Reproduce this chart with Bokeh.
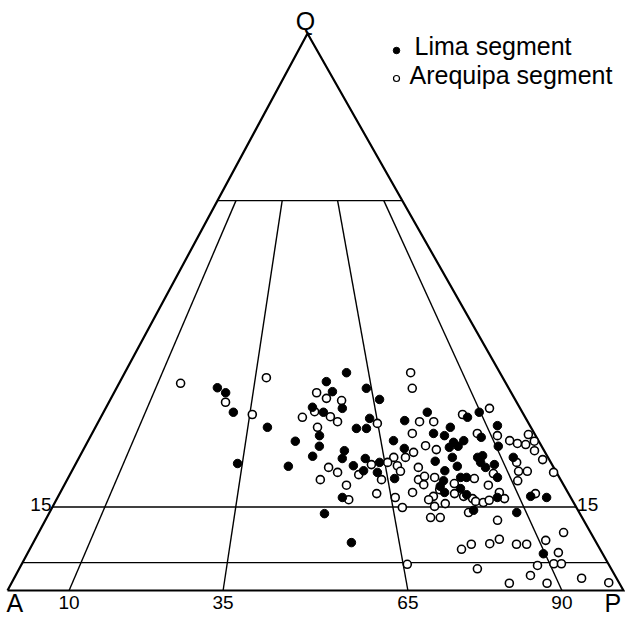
import numpy as np
from bokeh.plotting import figure
from bokeh.models import Range1d
from bokeh.core.properties import value
from bokeh.embed import file_html
from bokeh.resources import INLINE

# ---------------- data (Q %, and P/(A+P) %) ----------------
lima_q = [36.4, 35.5, 32.0, 29.3, 22.8, 26.8, 22.3, 39.1, 37.5, 35.7, 36.3, 34.3, 32.9, 32.0,
          32.7, 30.9, 29.1, 29.1, 27.8, 25.9, 25.1, 24.1, 23.7, 22.4, 23.7, 21.5, 23.0, 21.2,
          20.1, 16.7, 13.8, 8.6, 30.5, 32.0, 28.2, 27.8, 29.3, 26.9, 25.5, 23.2, 21.5, 26.6,
          26.9, 25.9, 25.7, 23.9, 22.3, 20.3, 20.3, 19.7, 18.7, 17.6, 18.3, 17.2, 31.1, 32.0,
          27.5, 23.9, 24.2, 23.0, 22.1, 22.6, 29.6, 25.9, 20.3, 16.7, 14.4, 23.9, 16.9, 16.7,
          14.0, 6.6]
lima_r = [25.7, 28.1, 31.0, 39.5, 34.0, 46.0, 44.7, 59.1, 53.6, 55.0, 63.7, 66.5, 49.9, 52.5,
          57.1, 63.3, 59.9, 62.2, 51.4, 51.3, 56.7, 49.8, 56.1, 58.3, 61.0, 60.3, 63.9, 63.1,
          66.4, 55.5, 51.9, 56.5, 71.4, 77.3, 77.2, 79.5, 81.5, 67.8, 69.8, 75.7, 77.1, 81.0,
          83.4, 81.7, 79.7, 79.6, 80.0, 79.9, 81.1, 76.2, 75.2, 75.7, 79.1, 79.9, 86.4, 89.7,
          87.6, 85.0, 86.2, 85.2, 85.8, 87.9, 92.5, 90.5, 87.4, 85.7, 80.2, 92.6, 92.3, 95.3,
          88.2, 89.7]

areq_q = [37.2, 33.8, 31.6, 38.2, 39.1, 36.3, 35.5, 34.5, 34.1, 32.1, 31.2, 30.3, 31.1, 29.3,
          30.0, 30.3, 30.3, 28.2, 26.0, 25.3, 24.8, 23.9, 23.9, 23.0, 22.6, 22.4, 21.4, 19.9,
          22.1, 19.9, 20.5, 19.0, 20.3, 18.1, 16.9, 16.3, 15.1, 15.6, 13.1, 13.1, 19.2, 17.4,
          16.9, 20.1, 16.5, 16.0, 15.8, 16.2, 17.6, 16.5, 14.0, 12.6, 31.6, 32.7, 28.2, 27.8,
          26.9, 26.4, 26.2, 28.0, 26.8, 25.1, 23.5, 21.2, 23.0, 21.4, 21.4, 19.7, 17.4, 18.9,
          21.0, 22.1, 21.2, 19.9, 18.9, 20.8, 17.4, 16.7, 16.3, 14.9, 17.6, 7.4, 8.3, 8.4,
          9.2, 8.3, 8.3, 9.0, 10.4, 6.8, 4.8, 4.8, 4.5, 2.7, 1.3, 1.3, 2.2, 1.4, 3.9, 4.7]
areq_r = [15.9, 28.6, 35.6, 37.9, 76.2, 75.4, 51.0, 53.4, 57.1, 50.4, 54.1, 55.7, 47.5, 51.0,
          64.9, 74.8, 78.1, 72.4, 74.6, 76.7, 71.6, 69.6, 67.1, 65.6, 62.1, 67.5, 67.9, 63.7,
          71.8, 71.2, 72.6, 72.0, 74.6, 74.9, 73.3, 72.2, 73.0, 75.2, 71.7, 73.5, 78.2, 77.6,
          79.2, 82.6, 80.8, 81.2, 82.6, 83.9, 86.5, 87.0, 79.1, 84.0, 85.5, 92.6, 87.1, 91.4,
          93.6, 95.0, 96.7, 98.5, 99.0, 97.9, 98.6, 99.4, 92.8, 92.3, 94.1, 91.2, 93.5, 84.9,
          86.9, 53.1, 54.9, 51.3, 56.5, 59.2, 62.3, 65.8, 56.7, 66.8, 69.4, 75.7, 77.7, 81.0,
          83.0, 85.7, 87.5, 91.2, 95.1, 92.4, 90.7, 92.0, 87.8, 85.9, 81.9, 88.1, 94.2, 98.3,
          77.4, 65.7]

ratio_lines = [10, 35, 65, 90]          # P/(A+P) boundaries
ratio_labels = ["10", "35", "65", "90"]
q_lines = [5, 15, 70]                   # horizontal Q boundaries (top one as drawn)
q_label_value = 15
q_label_text = "15"
series_names = ["Lima segment", "Arequipa segment"]
vertex_names = ["A", "P", "Q"]

# ---------------- geometry ----------------
W, H = 625, 618
AX, AY = 7, 28
PX, PY = 623, 28
QX, QY = 307, 585
TOP_RATIO_Q = q_lines[-1]


def tern(q, r):
    q = np.asarray(q, dtype=float) / 100.0
    r = np.asarray(r, dtype=float) / 100.0
    lx = AX + q * (QX - AX)
    ly = AY + q * (QY - AY)
    rx = PX + q * (QX - PX)
    ry = PY + q * (QY - PY)
    return lx + r * (rx - lx), ly + r * (ry - ly)


def ty(px_from_top):
    """convert a pixel row (from top) to plot y"""
    return H - px_from_top


FONT = value("Liberation Sans")

p = figure(width=W, height=H, x_range=Range1d(0, W), y_range=Range1d(0, H),
           output_backend="svg", toolbar_location=None, min_border=0,
           x_axis_type=None, y_axis_type=None)
p.grid.visible = False
p.outline_line_color = None
p.background_fill_color = "white"
p.border_fill_color = "white"

# outer triangle
p.line([AX, PX, QX, AX], [AY, PY, QY, AY], line_color="black", line_width=2.2,
       line_join="miter")

# horizontal Q lines
for qv in q_lines:
    xs, ys = tern([qv, qv], [0, 100])
    p.line(xs, ys, line_color="black", line_width=1.4)

# ratio lines from base to top line
for rv in ratio_lines:
    xs, ys = tern([0, TOP_RATIO_Q], [rv, rv])
    p.line(xs, ys, line_color="black", line_width=1.4)

# data points
lx, ly = tern(lima_q, lima_r)
ax_, ay_ = tern(areq_q, areq_r)
p.scatter(ax_, ay_, size=8, marker="circle", fill_color="white", line_color="black",
          line_width=1.6)
p.scatter(lx, ly, size=8.5, marker="circle", fill_color="black", line_color="black")

# tick labels under the base
bx, by = tern([0] * len(ratio_lines), ratio_lines)
p.text(x=list(bx), y=[ty(602)] * len(bx), text=ratio_labels, text_font=FONT,
       text_font_size="19px", text_align="center", text_baseline="alphabetic",
       text_color="black")

# Q = 15 labels
l15x, l15y = tern([q_label_value], [0])
r15x, r15y = tern([q_label_value], [100])
p.text(x=[l15x[0] - 1], y=[ty(504)], text=[q_label_text], text_font=FONT,
       text_font_size="19px", text_align="right", text_baseline="alphabetic")
p.text(x=[r15x[0] + 1], y=[ty(504)], text=[q_label_text], text_font=FONT,
       text_font_size="19px", text_align="left", text_baseline="alphabetic")

# vertex labels
p.text(x=[AX - 1], y=[ty(602)], text=[vertex_names[0]], text_font=FONT,
       text_font_size="25px", text_align="left", text_baseline="alphabetic")
p.text(x=[PX - 19], y=[ty(602)], text=[vertex_names[1]], text_font=FONT,
       text_font_size="25px", text_align="left", text_baseline="alphabetic")
p.text(x=[QX - 2], y=[ty(20)], text=[vertex_names[2]], text_font=FONT,
       text_font_size="25px", text_align="center", text_baseline="alphabetic")

# legend (manual)
p.scatter([396], [ty(50)], size=6.5, marker="circle", fill_color="black",
          line_color="black")
p.scatter([396], [ty(78)], size=6, marker="circle", fill_color="white",
          line_color="black", line_width=1.2)
p.text(x=[414, 409], y=[ty(45), ty(74)], text=series_names, text_font=FONT,
       text_font_size="25px", text_align="left", text_baseline="alphabetic")

open("out.html", "w").write(file_html(p, INLINE))
